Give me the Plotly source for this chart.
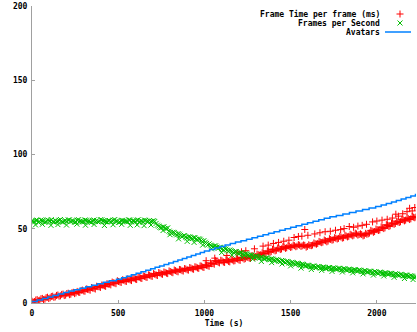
import plotly.graph_objects as go

# ---------------- data ----------------
STEP = 15      # seconds between samples in the main series
OFFSET = 7     # second sample pass, seconds after the first

frame_ms = [
    1.2, 1.0, 2.3, 1.9, 3.1, 2.6, 3.9, 3.5, 4.6, 4.1,
    5.4, 4.8, 6.0, 5.3, 6.6, 5.9, 7.2, 6.8, 7.3, 8.4,
    8.1, 9.5, 9.0, 10.4, 9.8, 11.3, 10.9, 12.1, 11.6, 13.0,
    12.7, 14.1, 13.4, 15.0, 14.2, 15.6, 14.8, 16.2, 15.5, 16.9,
    16.1, 17.6, 16.8, 18.3, 17.5, 19.0, 18.2, 19.8, 18.9, 20.5,
    19.6, 20.9, 20.1, 21.6, 20.7, 22.2, 21.3, 22.6, 21.8, 23.2,
    22.4, 23.9, 23.0, 24.4, 23.6, 25.0, 24.2, 25.7, 25.1, 27.0,
    26.6, 28.5, 27.4, 28.8, 27.6, 29.1, 28.0, 29.4, 28.3, 29.9,
    29.0, 30.6, 29.5, 31.0, 30.2, 31.9, 30.8, 32.9, 32.2, 33.8,
    33.1, 35.0, 34.2, 36.1, 35.1, 37.0, 36.0, 37.9, 36.8, 38.5,
    37.4, 39.0, 37.9, 39.3, 38.1, 39.1, 37.6, 39.2, 38.6, 40.4,
    39.6, 41.5, 40.6, 42.4, 41.2, 43.3, 42.3, 44.0, 43.1, 44.9,
    43.7, 45.6, 44.5, 46.3, 45.2, 47.0, 45.7, 46.6, 45.2, 46.9,
    46.6, 48.9, 47.6, 49.8, 48.8, 51.2, 50.1, 52.7, 51.5, 53.9,
    53.0, 55.1, 54.2, 56.4, 55.3, 57.3, 56.2, 58.2, 57.4,
]

frame_ms_b = [
    0.6, 2.0, 1.5, 2.9, 2.3, 3.6, 3.0, 4.4, 3.8, 5.1,
    4.6, 5.8, 5.0, 6.4, 5.6, 7.0, 6.3, 7.8, 7.1, 8.7,
    7.9, 9.2, 8.6, 10.0, 9.4, 11.0, 10.5, 11.8, 11.2, 12.6,
    12.2, 13.6, 13.0, 14.5, 13.8, 15.3, 14.5, 15.8, 15.1, 16.6,
    15.8, 17.3, 16.5, 17.9, 17.2, 18.7, 17.9, 19.3, 18.5, 20.1,
    19.3, 20.6, 19.8, 21.2, 20.4, 21.8, 21.0, 22.4, 21.5, 22.9,
    22.1, 23.5, 22.7, 24.1, 23.3, 24.8, 23.9, 25.4, 24.7, 26.5,
    26.1, 28.0, 27.0, 28.4, 27.3, 28.7, 27.7, 29.0, 28.5, 29.6,
    28.7, 30.3, 29.9, 30.6, 30.0, 31.5, 31.2, 32.5, 32.6, 33.5,
    33.4, 34.6, 34.6, 35.7, 35.5, 36.6, 36.4, 37.5, 37.2, 38.1,
    37.8, 38.6, 38.3, 38.9, 38.5, 38.8, 38.1, 38.7, 39.0, 39.9,
    40.1, 41.0, 41.0, 41.9, 41.7, 42.8, 42.6, 43.6, 43.5, 44.4,
    44.0, 45.1, 44.9, 45.8, 45.7, 46.5, 46.1, 46.1, 45.6, 46.3,
    47.1, 48.4, 48.1, 49.3, 49.2, 50.7, 50.6, 52.2, 52.0, 53.4,
    53.5, 54.6, 54.7, 55.9, 55.8, 56.8, 56.7, 57.8, 57.9,
]

frame_extra_t = [1010, 1060, 1130, 1190, 1215, 1240, 1290, 1340, 1370, 1400,
                 1430, 1460, 1490, 1520, 1545, 1565, 1582, 1600, 1640, 1670,
                 1700, 1730, 1760, 1790, 1810, 1840, 1865, 1890, 1915, 1940,
                 1975, 2000, 2030, 2060, 2090, 2110, 2125, 2150, 2175, 2190,
                 2205, 2220]
frame_extra_v = [28.5, 30.2, 32.0, 33.8, 34.5, 35.2, 36.5, 38.3, 39.0, 40.1,
                 40.8, 41.6, 42.3, 44.1, 44.8, 45.0, 49.5, 45.6, 46.5, 47.3,
                 48.0, 48.3, 49.0, 49.4, 50.1, 51.5, 51.0, 51.8, 52.3, 53.0,
                 54.6, 55.2, 55.8, 56.4, 57.2, 59.8, 58.5, 60.1, 61.5, 63.8,
                 62.0, 64.3]

fps = [
    55.3, 54.6, 55.8, 54.9, 55.5, 54.2, 56.0, 55.1, 54.7, 55.6,
    55.0, 56.2, 54.4, 55.4, 55.9, 54.8, 55.2, 54.5, 56.1, 55.0,
    54.6, 55.7, 55.1, 54.3, 55.9, 55.4, 54.8, 56.0, 55.2, 54.6,
    55.5, 54.9, 56.2, 55.1, 54.4, 55.7, 55.0, 54.6, 55.8, 55.3,
    54.7, 56.0, 55.2, 54.5, 55.6, 55.0, 54.8, 55.4,
    53.6, 51.8, 50.6, 51.3, 49.9, 48.4, 47.0, 47.5, 45.9, 46.3,
    44.6, 45.4, 43.8, 44.5, 43.4, 44.1, 42.5, 42.9, 41.3, 40.9,
    39.2, 39.0, 37.8, 38.5, 36.8, 37.4, 35.8, 36.3, 34.9, 35.3,
    34.0, 34.6, 33.2, 33.8, 32.5, 33.0, 31.6, 32.3, 30.9, 31.4,
    30.2, 30.9, 29.6, 30.3, 29.1, 29.6, 28.5, 29.0, 27.9, 28.4,
    27.3, 27.9, 26.7, 27.2, 26.0, 26.6, 25.5, 25.9, 24.8, 25.3,
    24.3, 24.9, 23.9, 24.5, 23.6, 24.1, 23.2, 23.9, 23.0, 23.5,
    22.7, 23.3, 22.4, 23.0, 22.2, 22.6, 21.9, 22.4, 21.5, 22.0,
    21.2, 21.7, 20.8, 21.3, 20.4, 20.9, 20.0, 20.6, 19.7, 20.2,
    19.4, 19.9, 19.0, 19.5, 18.6, 19.1, 18.2, 18.7, 17.8, 18.1, 17.3,
]

fps_b = [
    54.9, 55.6, 54.3, 55.9, 55.2, 54.7, 55.4, 56.1, 54.5, 55.0,
    55.7, 54.6, 55.3, 54.9, 56.0, 55.5, 54.4, 55.8, 55.1, 54.7,
    55.9, 55.2, 54.5, 55.6, 55.0, 54.6, 56.1, 55.3, 54.8, 55.5,
    54.7, 55.8, 55.0, 54.3, 55.6, 55.2, 54.9, 56.0, 54.6, 55.1,
    55.7, 54.4, 55.3, 55.9, 54.8, 55.5, 55.1, 54.9,
    52.4, 50.9, 51.2, 50.2, 50.6, 47.6, 47.6, 46.6, 46.7, 45.5,
    45.2, 44.4, 44.6, 43.6, 44.0, 43.0, 43.3, 41.9, 42.0, 40.1,
    39.8, 38.3, 38.4, 37.6, 37.5, 36.5, 36.6, 35.6, 35.7, 34.6,
    34.6, 33.7, 33.9, 32.9, 33.1, 32.2, 32.4, 31.3, 31.6, 30.6,
    30.9, 30.1, 30.4, 29.4, 29.8, 28.8, 29.2, 28.2, 28.6, 27.6,
    28.0, 26.9, 27.4, 26.3, 26.8, 25.7, 26.2, 25.0, 25.5, 24.5,
    24.9, 23.9, 24.6, 23.5, 24.2, 23.2, 23.8, 22.9, 23.6, 22.7,
    23.4, 22.4, 23.1, 22.1, 22.8, 21.8, 22.5, 21.5, 22.2, 21.1,
    21.8, 20.8, 21.5, 20.4, 21.2, 20.1, 20.8, 19.7, 20.4, 19.4,
    20.0, 19.0, 19.7, 18.7, 19.3, 18.3, 18.9, 17.9, 18.5, 17.5, 17.8,
]

fps_extra_t = [20, 60, 110, 150, 200, 260, 310, 360, 420, 470, 520, 570, 610,
               650, 690, 760, 800, 850, 900, 940, 990, 1040, 1100, 1160, 1220,
               1280, 1330, 1390, 1450, 1500, 1560, 1620, 1680, 1740, 1800,
               1860, 1920, 1980, 2040, 2100, 2160, 2210]
fps_extra_v = [52.6, 53.0, 52.3, 52.8, 52.5, 53.1, 52.4, 52.9, 52.2, 52.7,
               53.0, 52.3, 52.6, 52.1, 52.5, 48.8, 46.0, 43.2, 41.5, 40.8,
               39.0, 36.5, 34.0, 32.2, 30.8, 29.5, 28.0, 27.2, 26.3, 25.0,
               23.5, 22.6, 22.0, 21.3, 20.9, 20.3, 19.6, 18.8, 18.2, 17.3,
               16.5, 15.8]

avatar_t = [0, 30, 61, 92, 122, 153, 184, 214, 245, 278, 312, 346, 380, 414,
            448, 490, 520, 548, 576, 604, 632, 660, 688, 714, 740, 766, 793,
            820, 846, 872, 898, 924, 950, 976, 1000, 1030, 1060, 1090, 1120,
            1150, 1180, 1212, 1244, 1276, 1308, 1340, 1372, 1404, 1436, 1468,
            1500, 1532, 1565, 1598, 1630, 1663, 1695, 1728, 1765, 1803, 1841,
            1879, 1917, 1955, 1993, 2025, 2055, 2085, 2113, 2141, 2169, 2197,
            2224, 2227]
avatar_n = [1, 2, 3, 4, 5, 6, 7, 8, 9, 10, 11, 12, 13, 14, 15, 16, 17, 18,
            19, 20, 21, 22, 23, 24, 25, 26, 27, 28, 29, 30, 31, 32, 33, 34,
            35, 36, 37, 38, 39, 40, 41, 42, 43, 44, 45, 46, 47, 48, 49, 50,
            51, 52, 53, 54, 55, 56, 57, 58, 59, 60, 61, 62, 63, 64, 65, 66,
            67, 68, 69, 70, 71, 72, 73, 73]

x_ticks = [0, 500, 1000, 1500, 2000]
y_ticks = [0, 50, 100, 150, 200]
X_MAX = 2227

series_names = ["Frame Time per frame (ms)", "Frames per Second", "Avatars"]
RED, GREEN, BLUE = "#ff0000", "#00c000", "#0080ff"

# ---------------- figure ----------------
W, H = 417, 332
L, R, T, B = 32, 1, 6, 29
FONT = dict(family="DejaVu Sans Mono", size=8, color="black", weight="bold")
AXIS_GRAY = "#a0a0a0"

t_frame = [STEP * i for i in range(len(frame_ms))]
t_frame_b = [STEP * i + OFFSET for i in range(len(frame_ms_b))]
t_fps = [STEP * i for i in range(len(fps))]
t_fps_b = [STEP * i + OFFSET for i in range(len(fps_b))]

red_marker = dict(symbol="cross-thin", size=5, line=dict(color=RED, width=1), color=RED)
green_marker = dict(symbol="x-thin", size=5, line=dict(color=GREEN, width=1), color=GREEN)

fig = go.Figure()
fig.add_trace(go.Scatter(x=t_frame + t_frame_b + frame_extra_t,
                         y=frame_ms + frame_ms_b + frame_extra_v,
                         mode="markers", marker=red_marker, name=series_names[0],
                         showlegend=False))
fig.add_trace(go.Scatter(x=t_fps + t_fps_b + fps_extra_t,
                         y=fps + fps_b + fps_extra_v,
                         mode="markers", marker=green_marker, name=series_names[1],
                         showlegend=False))
fig.add_trace(go.Scatter(x=avatar_t, y=avatar_n, mode="lines",
                         line=dict(color=BLUE, width=1.5, shape="hv"),
                         name=series_names[2], showlegend=False))

# ---- manual gnuplot-style key (text right, sample on the right) ----
plot_x0, plot_x1 = L, W - R
plot_y0, plot_y1 = T, H - B
key_text_right = 382
key_sample_x = 400
key_line = (385, 411)
key_rows = [14, 23, 32]

fig.add_trace(go.Scatter(x=[key_sample_x], y=[key_rows[0]], xaxis="x2", yaxis="y2",
                         mode="markers", marker=red_marker, showlegend=False,
                         hoverinfo="skip"))
fig.add_trace(go.Scatter(x=[key_sample_x], y=[key_rows[1]], xaxis="x2", yaxis="y2",
                         mode="markers", marker=green_marker, showlegend=False,
                         hoverinfo="skip"))
fig.add_trace(go.Scatter(x=list(key_line), y=[key_rows[2], key_rows[2]], xaxis="x2",
                         yaxis="y2", mode="lines", line=dict(color=BLUE, width=1.5),
                         showlegend=False, hoverinfo="skip"))
for name, row in zip(series_names, key_rows):
    fig.add_annotation(x=key_text_right, y=row, xref="x2", yref="y2", text=name,
                       showarrow=False, xanchor="right", yanchor="middle",
                       font=FONT)

fig.update_layout(
    width=W, height=H,
    margin=dict(l=L, r=R, t=T, b=B, pad=0),
    paper_bgcolor="white", plot_bgcolor="white",
    font=FONT,
    showlegend=False,
    xaxis=dict(range=[0, X_MAX], tickvals=x_ticks, ticks="inside", ticklen=3,
               tickcolor=AXIS_GRAY, showline=True, linecolor=AXIS_GRAY, linewidth=1,
               showgrid=False, zeroline=False, tickfont=FONT, ticklabelstandoff=2,
               title=dict(text="Time (s)", font=FONT, standoff=1)),
    yaxis=dict(range=[0, 200], tickvals=y_ticks, ticks="inside", ticklen=3,
               tickcolor=AXIS_GRAY, showline=True, linecolor=AXIS_GRAY, linewidth=1,
               showgrid=False, zeroline=False, tickfont=FONT, ticklabelstandoff=2),
    xaxis2=dict(range=[plot_x0, plot_x1], overlaying="x", visible=False,
                fixedrange=True),
    yaxis2=dict(range=[plot_y1, plot_y0], overlaying="y", visible=False,
                fixedrange=True),
)

fig.write_html("out.html")
